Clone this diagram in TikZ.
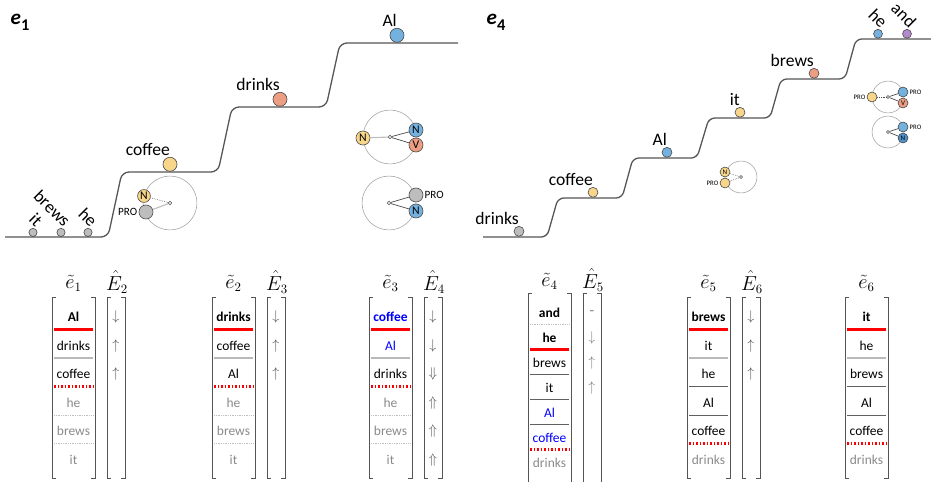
\documentclass[tikz,border=0pt]{standalone}
\usepackage{fontspec}
\setmainfont{Carlito}
\usepackage{amsmath}
\usetikzlibrary{positioning}

\definecolor{wyellow}{HTML}{F7D58A}
\definecolor{wsalmon}{HTML}{EC9E83}
\definecolor{wblue}{HTML}{74B1DE}
\definecolor{wdblue}{HTML}{4E92CC}
\definecolor{wgray}{HTML}{BDBDBD}
\definecolor{wpurple}{HTML}{B28ACB}
\definecolor{linegray}{HTML}{555555}
\definecolor{oldgray}{HTML}{8A8A8A}
\definecolor{sepred}{HTML}{FF0000}

% bracket of a column vector: left x, right x, top y, bottom y
\newcommand{\mbrack}[4]{%
  \draw[bracket] (#1+4,#3) -- (#1,#3) -- (#1,#4) -- (#1+4,#4);
  \draw[bracket] (#2-4,#3) -- (#2,#3) -- (#2,#4) -- (#2-4,#4);
}

\tikzset{
  stair/.style={draw=linegray, line width=1.1pt, rounded corners=6pt},
  ball/.style={circle, draw=gray!55!black, line width=0.5pt, inner sep=0pt, minimum size=12pt, font=\fontsize{10}{10}\selectfont},
  sball/.style={ball, minimum size=8.5pt, font=\fontsize{6}{6}\selectfont},
  tball/.style={ball, minimum size=7pt},
  word/.style={font=\fontsize{15}{17}\selectfont, inner sep=0pt, anchor=base east},
  tword/.style={word, rotate=-45},
  orbit/.style={draw=gray!70, line width=0.5pt},
  hub/.style={circle, draw=gray!60!black, fill=white, inner sep=0pt, minimum size=3pt, line width=0.4pt},
  dlink/.style={densely dotted, gray!60!black, line width=0.5pt},
  slink/.style={gray!60!black, line width=0.6pt},
  llink/.style={gray!50, line width=1pt},
  pro/.style={font=\fontsize{9.5}{10}\selectfont, inner sep=0pt},
  spro/.style={font=\fontsize{5.8}{6}\selectfont, inner sep=0pt},
  elabel/.style={font=\fontsize{18}{20}\selectfont\bfseries\itshape},
  mlabel/.style={font=\fontsize{16}{18}\selectfont, inner sep=0pt},
  row/.style={font=\fontsize{11.5}{13}\selectfont},
  dir/.style={font=\fontsize{13}{15}\selectfont, text=linegray, inner sep=0pt},
  bracket/.style={draw=linegray, line width=0.7pt},
  redline/.style={draw=sepred, line width=1.8pt},
  reddot/.style={draw=sepred, line width=1.8pt, dash pattern=on 1.5pt off 1.5pt},
  gline/.style={draw=gray!55, line width=1.5pt},
  tline/.style={draw=gray!75!black, line width=0.6pt},
  dline/.style={draw=gray!50, line width=0.5pt, densely dotted}
}

\begin{document}
\begin{tikzpicture}[x=0.03cm, y=-0.03cm]
\useasboundingbox (0,0) rectangle (931,482);

% ---------- e_1 ----------
\node[elabel] (lab1) at (20,22) {e\raisebox{-5pt}{\fontsize{14}{14}\selectfont\upshape 1}};
\draw[stair] (5,237) -- (108,237) -- (122,172) -- (218,172) -- (232,107) -- (326,107) -- (340,43) -- (458,43);

% words on the stairs
\node[tball, fill=wgray] (bit) at (33,232.4) {};
\node[tball, fill=wgray] (bbrews) at (61,232.4) {};
\node[tball, fill=wgray] (bhe) at (88,232.4) {};
\node[ball, fill=wyellow] (bcoffee) at (170,164.3) {};
\node[ball, fill=wsalmon] (bdrinks) at (280,99.3) {};
\node[ball, fill=wblue] (bal) at (397,35.3) {};
\node[tword] (wit) at ([xshift=2pt]bit.north) {it};
\node[tword] (wbrews) at ([xshift=2pt]bbrews.north) {brews};
\node[tword] (whe) at ([xshift=2pt]bhe.north) {he};
\node[word] (wcoffee) at ([yshift=1pt]bcoffee.north) {coffee};
\node[word] (wdrinks) at ([yshift=1pt]bdrinks.north) {drinks};
\node[word] (wal) at ([yshift=1pt]bal.north) {Al};

% circle: N / PRO
\node[hub] (hA) at (170,203) {};
\draw[orbit] (hA) circle (23pt);
\node[ball, fill=wyellow, minimum size=11pt] (aN) at (144,196) {N};
\node[ball, fill=wgray] (aP) at (146,212) {};
\node[pro, left=1pt of aP] (aPl) {PRO};
\draw[dlink] (aN) -- (hA);
\draw[llink] (aP) -- (hA);

% circle: N / N V
\node[hub] (hB) at (390,137) {};
\draw[orbit] (hB) circle (23pt);
\node[ball, fill=wyellow] (bN1) at (363,138) {N};
\node[ball, fill=wblue] (bN2) at (416,130) {N};
\node[ball, fill=wsalmon] (bV) at (416,145) {V};
\draw[llink] (bN1) -- (hB);
\draw[slink] (hB) -- (bN2);
\draw[slink] (hB) -- (bV);

% circle: PRO N
\node[hub] (hC) at (389,203) {};
\draw[orbit] (hC) circle (23pt);
\node[ball, fill=wgray] (cP) at (416,195) {};
\node[ball, fill=wblue] (cN) at (416,211) {N};
\node[pro, right=1pt of cP] (cPl) {PRO};
\draw[slink] (hC) -- (cP);
\draw[slink] (hC) -- (cN);

% ---------- e_4 ----------
\node[elabel] (lab4) at (496,22) {e\raisebox{-5pt}{\fontsize{14}{14}\selectfont\upshape 4}};
\draw[stair, rounded corners=5pt] (483,237) -- (547,237) -- (558,198) -- (622,198) -- (633,158) -- (697,158) -- (709,118) -- (770,118) -- (781,79) -- (845,79) -- (856,39) -- (931,39);

\node[sball, fill=wgray] (ddrinks) at (519,231.3) {};
\node[sball, fill=wyellow] (dcoffee) at (593,192.3) {};
\node[sball, fill=wblue] (dal) at (667,152.3) {};
\node[sball, fill=wyellow] (dit) at (740,112.3) {};
\node[sball, fill=wsalmon] (dbrews) at (814,73.3) {};
\node[sball, fill=wblue, minimum size=7.6pt] (dhe) at (878,33.8) {};
\node[sball, fill=wpurple, minimum size=7.6pt] (dand) at (907,33.8) {};
\node[word] (vdrinks) at ([yshift=1pt]ddrinks.north) {drinks};
\node[word] (vcoffee) at ([yshift=1pt]dcoffee.north) {coffee};
\node[word] (val) at ([yshift=1pt]dal.north) {Al};
\node[word] (vit) at ([yshift=1pt]dit.north) {it};
\node[word] (vbrews) at ([yshift=1pt]dbrews.north) {brews};
\node[tword] (vhe) at ([xshift=2pt]dhe.north) {he};
\node[tword] (vand) at ([xshift=2pt]dand.north) {and};

% circle: N / PRO
\node[hub, minimum size=2.5pt] (hD) at (741,177) {};
\draw[orbit] (hD) circle (13.6pt);
\node[sball, fill=wyellow] (dN) at (725,172) {N};
\node[sball, fill=wyellow] (dP) at (725,183) {};
\node[spro, left=1pt of dP] (dPl) {PRO};
\draw[dlink] (dN) -- (hD);
\draw[dlink] (dP) -- (hD);

% circle: PRO / PRO V
\node[hub, minimum size=2.5pt] (hE) at (888,97) {};
\draw[orbit] (hE) circle (13.6pt);
\node[sball, fill=wyellow] (eP1) at (872,97) {};
\node[sball, fill=wblue] (eP2) at (903,92) {};
\node[sball, fill=wsalmon] (eV) at (903,103) {V};
\node[spro, left=1pt of eP1] (eP1l) {PRO};
\node[spro, right=1pt of eP2] (eP2l) {PRO};
\draw[dlink] (eP1) -- (hE);
\draw[slink] (hE) -- (eP2);
\draw[slink] (hE) -- (eV);

% circle: PRO N
\node[hub, minimum size=2.5pt] (hF) at (888,132) {};
\draw[orbit] (hF) circle (13.6pt);
\node[sball, fill=wblue] (fP) at (903,127) {};
\node[sball, fill=wdblue] (fN) at (903,138) {N};
\node[spro, right=1pt of fP] (fPl) {PRO};
\draw[slink] (hF) -- (fP);
\draw[slink] (hF) -- (fN);

% ---------- e~1 / E^2 ----------
\node[mlabel] (t1) at (73.5,283) {$\tilde{e}_1$};
\node[mlabel] (h2) at (117,282) {$\hat{E}_2$};
\mbrack{52}{95}{297}{478}
\mbrack{107}{125}{297}{478}
\foreach \w/\c/\f [count=\i] in {Al/black/\bfseries, drinks/black/\mdseries, coffee/black/\mdseries, he/oldgray/\mdseries, brews/oldgray/\mdseries, it/oldgray/\mdseries}
  \node[row, text=\c] (m1w\i) at (73.5,{317+28.5*(\i-1)}) {\f\w};
\draw[redline] (54,329.5) -- (93,329.5);
\draw[gline] (54,358) -- (93,358);
\draw[reddot] (54,386.5) -- (93,386.5);
\draw[dline] (54,415) -- (93,415);
\draw[dline] (54,443.5) -- (93,443.5);
\foreach \a [count=\i] in {\downarrow, \uparrow, \uparrow}
  \node[dir] (m1d\i) at (116,{317+28.5*(\i-1)}) {$\a$};

% ---------- e~2 / E^3 ----------
\node[mlabel] (t2) at (233.5,283) {$\tilde{e}_2$};
\node[mlabel] (h3) at (277,282) {$\hat{E}_3$};
\mbrack{212}{255}{297}{478}
\mbrack{267}{285}{297}{478}
\foreach \w/\c/\f [count=\i] in {drinks/black/\bfseries, coffee/black/\mdseries, Al/black/\mdseries, he/oldgray/\mdseries, brews/oldgray/\mdseries, it/oldgray/\mdseries}
  \node[row, text=\c] (m2w\i) at (233.5,{317+28.5*(\i-1)}) {\f\w};
\draw[redline] (214,329.5) -- (253,329.5);
\draw[gline] (214,358) -- (253,358);
\draw[reddot] (214,386.5) -- (253,386.5);
\draw[dline] (214,415) -- (253,415);
\draw[dline] (214,443.5) -- (253,443.5);
\foreach \a [count=\i] in {\downarrow, \uparrow, \uparrow}
  \node[dir] (m2d\i) at (276,{317+28.5*(\i-1)}) {$\a$};

% ---------- e~3 / E^4 ----------
\node[mlabel] (t3) at (390.5,283) {$\tilde{e}_3$};
\node[mlabel] (h4) at (434,282) {$\hat{E}_4$};
\mbrack{369}{412}{297}{478}
\mbrack{424}{442}{297}{478}
\foreach \w/\c/\f [count=\i] in {coffee/blue/\bfseries, Al/blue/\mdseries, drinks/black/\mdseries, he/oldgray/\mdseries, brews/oldgray/\mdseries, it/oldgray/\mdseries}
  \node[row, text=\c] (m3w\i) at (390.5,{317+28.5*(\i-1)}) {\f\w};
\draw[redline] (371,329.5) -- (410,329.5);
\draw[gline] (371,358) -- (410,358);
\draw[reddot] (371,386.5) -- (410,386.5);
\draw[dline] (371,415) -- (410,415);
\draw[dline] (371,443.5) -- (410,443.5);
\foreach \a [count=\i] in {\downarrow, \downarrow, \Downarrow, \Uparrow, \Uparrow, \Uparrow}
  \node[dir] (m3d\i) at (433,{317+28.5*(\i-1)}) {$\a$};

% ---------- e~4 / E^5 ----------
\node[mlabel] (t4) at (549.5,281) {$\tilde{e}_4$};
\node[mlabel] (h5) at (593,280) {$\hat{E}_5$};
\mbrack{528}{571}{293}{492}
\mbrack{583}{601}{293}{492}
\foreach \w/\c/\f [count=\i] in {and/black/\bfseries, he/black/\bfseries, brews/black/\mdseries, it/black/\mdseries, Al/blue/\mdseries, coffee/blue/\mdseries, drinks/oldgray/\mdseries}
  \node[row, text=\c] (m4w\i) at (549.5,{313+25*(\i-1)}) {\f\w};
\draw[dline] (530,324.5) -- (569,324.5);
\draw[redline] (530,349.5) -- (569,349.5);
\draw[tline] (530,374.5) -- (569,374.5);
\draw[tline] (530,399.5) -- (569,399.5);
\draw[tline] (530,424.5) -- (569,424.5);
\draw[reddot] (530,449.5) -- (569,449.5);
\foreach \a [count=\i] in {\text{-}, \downarrow, \uparrow, \uparrow}
  \node[dir, text=gray] (m4d\i) at (592,{313+25*(\i-1)}) {$\a$};

% ---------- e~5 / E^6 ----------
\node[mlabel] (t5) at (708.5,283) {$\tilde{e}_5$};
\node[mlabel] (h6) at (752,282) {$\hat{E}_6$};
\mbrack{687}{730}{297}{478}
\mbrack{742}{760}{297}{478}
\foreach \w/\c/\f [count=\i] in {brews/black/\bfseries, it/black/\mdseries, he/black/\mdseries, Al/black/\mdseries, coffee/black/\mdseries, drinks/oldgray/\mdseries}
  \node[row, text=\c] (m5w\i) at (708.5,{317+28.5*(\i-1)}) {\f\w};
\draw[redline] (689,329.5) -- (728,329.5);
\draw[gline] (689,358) -- (728,358);
\draw[tline] (689,386.5) -- (728,386.5);
\draw[tline] (689,415) -- (728,415);
\draw[reddot] (689,443.5) -- (728,443.5);
\foreach \a [count=\i] in {\downarrow, \uparrow, \uparrow}
  \node[dir] (m5d\i) at (751,{317+28.5*(\i-1)}) {$\a$};

% ---------- e~6 ----------
\node[mlabel] (t6) at (866.5,283) {$\tilde{e}_6$};
\mbrack{845}{888}{297}{478}
\foreach \w/\c/\f [count=\i] in {it/black/\bfseries, he/black/\mdseries, brews/black/\mdseries, Al/black/\mdseries, coffee/black/\mdseries, drinks/oldgray/\mdseries}
  \node[row, text=\c] (m6w\i) at (866.5,{317+28.5*(\i-1)}) {\f\w};
\draw[redline] (847,329.5) -- (886,329.5);
\draw[gline] (847,358) -- (886,358);
\draw[tline] (847,386.5) -- (886,386.5);
\draw[tline] (847,415) -- (886,415);
\draw[reddot] (847,443.5) -- (886,443.5);

\end{tikzpicture}
\end{document}
